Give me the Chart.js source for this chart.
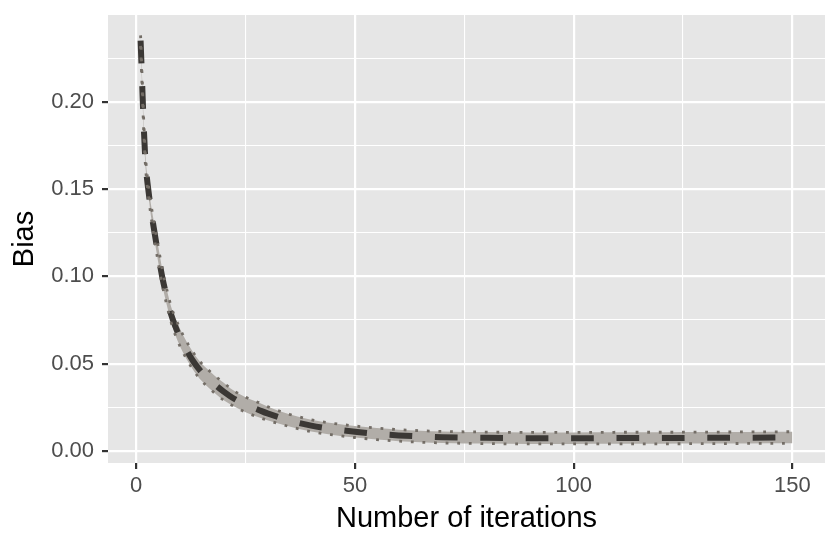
<!DOCTYPE html>
<html>
<head>
<meta charset="utf-8">
<script src="https://cdn.jsdelivr.net/npm/chart.js@4.4.1/dist/chart.umd.min.js"></script>
<style>
  html, body { margin: 0; padding: 0; background: #ffffff; }
  canvas { display: block; }
</style>
</head>
<body>
<canvas id="biasChart" width="840" height="548"></canvas>
<script>
// Data
const iterations = [1,2,3,4,5,6,7,8,9,10,11,12,13,14,15,16,18,20,22,25,28,30,35,40,45,50,55,60,65,70,80,90,100,110,120,130,140,150];
const biasMean  = [0.235,0.171,0.145,0.128,0.113,0.099,0.088,0.078,0.071,0.065,0.060,0.0555,0.0515,0.048,0.045,0.0425,0.038,0.034,0.0305,0.0265,0.0235,0.0215,0.0175,0.0145,0.0125,0.011,0.0098,0.0089,0.0083,0.0079,0.0075,0.0073,0.0073,0.0074,0.0074,0.0075,0.0076,0.0077];
const biasLower = [0.232,0.168,0.142,0.124,0.1085,0.0945,0.0835,0.0735,0.066,0.06,0.055,0.0505,0.0465,0.043,0.040,0.0375,0.033,0.029,0.026,0.0222,0.0193,0.0176,0.014,0.0111,0.0092,0.0077,0.0065,0.0056,0.005,0.0046,0.0042,0.004,0.004,0.0041,0.0041,0.0042,0.0043,0.0044];
const biasUpper = [0.238,0.174,0.148,0.132,0.1175,0.1035,0.0925,0.0825,0.076,0.07,0.065,0.0605,0.0565,0.053,0.050,0.0475,0.043,0.039,0.035,0.0308,0.0277,0.0254,0.021,0.0179,0.0158,0.0143,0.0131,0.0122,0.0116,0.0112,0.0108,0.0106,0.0106,0.0107,0.0107,0.0108,0.0109,0.011];
const xTicks = [0,25,50,75,100,125,150];
const yTicks = [0,0.025,0.05,0.075,0.1,0.125,0.15,0.175,0.2,0.225];

const toPoints = ys => iterations.map((x, i) => ({x: x, y: ys[i]}));
const isMajorX = v => v % 50 === 0;
const isMajorY = v => Math.abs(v / 0.05 - Math.round(v / 0.05)) < 1e-6;

// grey panel behind the grid
const panelBg = {
    id: 'panelBg',
    beforeDraw(chart) {
        const {ctx, chartArea: a} = chart;
        ctx.save();
        ctx.fillStyle = '#e6e6e6';
        ctx.fillRect(a.left, a.top, a.width, a.height);
        ctx.restore();
    }
};

const tickFont = {family: 'Liberation Sans', size: 22};
const titleFont = {family: 'Liberation Sans', size: 29};

new Chart(document.getElementById('biasChart').getContext('2d'), {
    type: 'line',
    data: {
        datasets: [{
            data: toPoints(biasUpper),
            borderColor: '#736d66',
            borderWidth: 2.8,
            borderDash: [2.8, 8.8],
            backgroundColor: '#b1ada8',
            fill: '+1',
            pointRadius: 0,
            cubicInterpolationMode: 'monotone',
            order: 0
        }, {
            data: toPoints(biasLower),
            borderColor: '#736d66',
            borderWidth: 2.8,
            borderDash: [2.8, 8.8],
            fill: false,
            pointRadius: 0,
            cubicInterpolationMode: 'monotone',
            order: 0
        }, {
            data: toPoints(biasMean),
            borderColor: '#3b3835',
            borderWidth: 6,
            borderDash: [22.7, 22.7],
            fill: false,
            pointRadius: 0,
            cubicInterpolationMode: 'monotone',
            order: 1
        }]
    },
    options: {
        responsive: false,
        animation: false,
        layout: {padding: {top: 15, right: 15, left: 0, bottom: 0}},
        plugins: {
            legend: {display: false},
            tooltip: {enabled: false},
            filler: {drawTime: 'beforeDatasetsDraw'}
        },
        scales: {
            x: {
                type: 'linear',
                min: -6.45,
                max: 157.45,
                afterBuildTicks: axis => { axis.ticks = xTicks.map(v => ({value: v})); },
                afterFit: axis => { axis.height = 85; axis.paddingLeft = 0; axis.paddingRight = 0; },
                border: {display: false},
                grid: {
                    color: '#ffffff',
                    lineWidth: c => isMajorX(c.tick.value) ? 2.2 : 1.1,
                    tickColor: c => isMajorX(c.tick.value) ? '#333333' : 'rgba(0,0,0,0)',
                    tickWidth: 2.2,
                    tickLength: 6
                },
                ticks: {
                    color: '#4d4d4d',
                    font: tickFont,
                    padding: 4,
                    maxRotation: 0,
                    callback: v => isMajorX(v) ? String(v) : ''
                },
                title: {
                    display: true,
                    text: 'Number of iterations',
                    color: '#000000',
                    font: titleFont,
                    padding: {top: 0, bottom: 12}
                }
            },
            y: {
                type: 'linear',
                min: -0.0069,
                max: 0.2497,
                afterBuildTicks: axis => { axis.ticks = yTicks.map(v => ({value: v})); },
                afterFit: axis => { axis.width = 108; axis.paddingTop = 0; axis.paddingBottom = 0; },
                border: {display: false},
                grid: {
                    color: '#ffffff',
                    lineWidth: c => isMajorY(c.tick.value) ? 2.2 : 1.1,
                    tickColor: c => isMajorY(c.tick.value) ? '#333333' : 'rgba(0,0,0,0)',
                    tickWidth: 2.2,
                    tickLength: 6
                },
                ticks: {
                    color: '#4d4d4d',
                    font: tickFont,
                    padding: 8,
                    callback: v => isMajorY(v) ? v.toFixed(2) : ''
                },
                title: {
                    display: true,
                    text: 'Bias',
                    color: '#000000',
                    font: titleFont,
                    padding: {top: 8, bottom: 0}
                }
            }
        }
    },
    plugins: [panelBg]
});
</script>
</body>
</html>
